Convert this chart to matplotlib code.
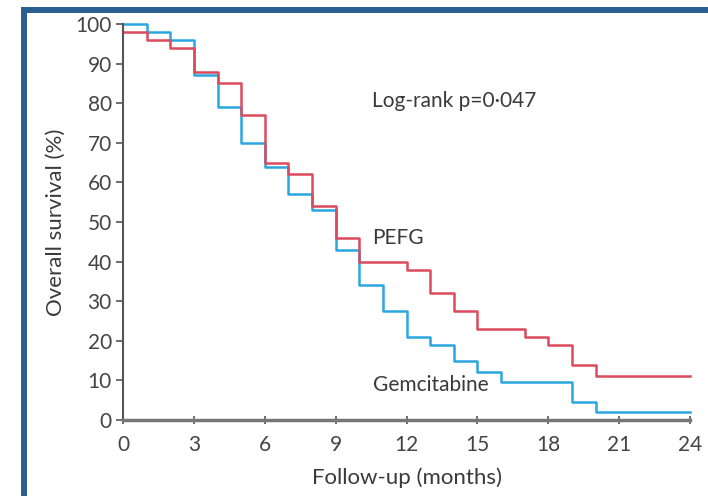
import matplotlib
matplotlib.use('Agg')
import matplotlib.pyplot as plt
from matplotlib.patches import Rectangle

# Kaplan-Meier steps (months, % surviving)
pefg_t = [0, 1, 2, 3, 4, 5, 6, 7, 8, 9, 10, 12, 13, 14, 15, 17, 18, 19, 20, 24]
pefg_s = [98, 96, 94, 88, 85, 77, 65, 62, 54, 46, 40, 38, 32, 27.5, 23, 21, 19, 14, 11, 11]

gem_t = [0, 1, 2, 3, 4, 5, 6, 7, 8, 9, 10, 11, 12, 13, 14, 15, 16, 19, 20, 24]
gem_s = [100, 98, 96, 87, 79, 70, 64, 57, 53, 43, 34, 27.5, 21, 19, 15, 12, 9.5, 4.5, 2, 2]

x_ticks = [0, 3, 6, 9, 12, 15, 18, 21, 24]
y_ticks = [0, 10, 20, 30, 40, 50, 60, 70, 80, 90, 100]

red = '#dc4a5c'
cyan = '#2aa7e0'
txt = '#3a3a3a'

plt.rcParams['font.family'] = ['Lato', 'DejaVu Sans']

fig = plt.figure(figsize=(7.08, 4.96), dpi=100)
ax = fig.add_axes([123/708, 1 - 420/496, 567/708, 396/496])

ax.step(gem_t, gem_s, where='post', color=cyan, lw=1.8, clip_on=False)
ax.step(pefg_t, pefg_s, where='post', color=red, lw=1.8, clip_on=False)

ax.set_xlim(0, 24)
ax.set_ylim(0, 100)
ax.set_xticks(x_ticks)
ax.set_yticks(y_ticks)
ax.tick_params(axis='both', colors='#555555', labelcolor='#444444', labelsize=15)
ax.tick_params(axis='x', direction='inout', length=6, width=1.2, pad=8)
ax.tick_params(axis='y', direction='out', length=5, width=1.2, pad=3)

for side in ['top', 'right']:
    ax.spines[side].set_visible(False)
ax.spines['left'].set_color('#555555')
ax.spines['left'].set_linewidth(1.5)
ax.spines['bottom'].set_color('#777777')
ax.spines['bottom'].set_linewidth(2.5)

ax.set_xlabel('Follow-up (months)', fontsize=16, color=txt, labelpad=9)
ax.set_ylabel('Overall survival (%)', fontsize=16, color=txt, labelpad=7)

ax.text(10.55, 80.6, 'Log-rank p=0·047', fontsize=15, color=txt, va='center')
ax.text(10.55, 46, 'PEFG', fontsize=15, color=txt, va='center')
ax.text(10.6, 8.8, 'Gemcitabine', fontsize=15, color=txt, va='center')

# blue frame round the figure (top and left edges)
frame = '#2b5f91'
fig.add_artist(Rectangle((21/708, 0), 6/708, 1 - 7/496, transform=fig.transFigure,
                         color=frame, lw=0))
fig.add_artist(Rectangle((21/708, 1 - 13/496), 1 - 21/708, 6/496, transform=fig.transFigure,
                         color=frame, lw=0))

fig.savefig('out.png', dpi=100)
